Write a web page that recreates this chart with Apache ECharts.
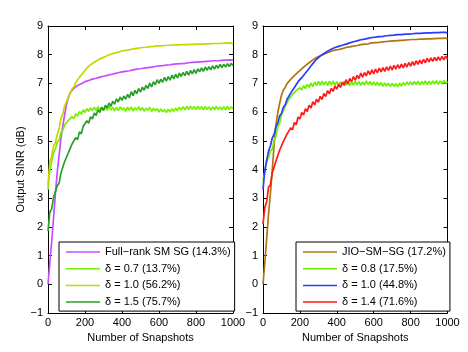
<!DOCTYPE html>
<html lang="en">
<head>
    <meta charset="UTF-8">
    <title>Output SINR vs Snapshots</title>
    <script src="https://cdn.jsdelivr.net/npm/echarts@6/dist/echarts.min.js"></script>
    <style>
        html, body { margin: 0; padding: 0; background: #fff; }
        #main { width: 468px; height: 352px; }
    </style>
</head>
<body>
<div id="main"></div>
<script>
    // one sample every 10 snapshots, 0..1000
    var snapStep = 10;
    var xTicks = [0, 200, 400, 600, 800, 1000];
    var yTicks = [-1, 0, 1, 2, 3, 4, 5, 6, 7, 8, 9];

    // left panel
    var leftNames = ['Full\u2212rank SM SG (14.3%)', '\u03b4 = 0.7 (13.7%)', '\u03b4 = 1.0 (56.2%)', '\u03b4 = 1.5 (75.7%)'];
    var leftColors = ['#c84cff', '#78f000', '#c4d800', '#28a028'];

    var fullRank = [
        0.00, 0.75, 1.50, 2.30, 3.15, 3.90, 4.50, 5.10, 5.50, 5.92,
        6.26, 6.50, 6.68, 6.70, 6.83, 6.82, 6.93, 6.88, 6.99, 6.95,
        7.06, 7.01, 7.10, 7.05, 7.15, 7.09, 7.18, 7.14, 7.22, 7.17,
        7.25, 7.21, 7.28, 7.24, 7.31, 7.27, 7.34, 7.29, 7.37, 7.33,
        7.40, 7.35, 7.42, 7.38, 7.44, 7.40, 7.47, 7.42, 7.50, 7.44,
        7.51, 7.47, 7.53, 7.49, 7.55, 7.51, 7.57, 7.52, 7.59, 7.54,
        7.61, 7.56, 7.62, 7.58, 7.64, 7.59, 7.65, 7.61, 7.67, 7.62,
        7.68, 7.63, 7.69, 7.65, 7.70, 7.66, 7.72, 7.67, 7.73, 7.68,
        7.74, 7.69, 7.75, 7.71, 7.76, 7.72, 7.77, 7.73, 7.78, 7.74,
        7.79, 7.75, 7.79, 7.76, 7.80, 7.76, 7.81, 7.77, 7.82, 7.78,
        7.81
    ];
    var d07 = [
        3.30, 3.98, 4.27, 4.58, 4.72, 4.95, 5.02, 5.29, 5.36, 5.55,
        5.54, 5.71, 5.69, 5.84, 5.77, 5.94, 5.86, 6.02, 5.93, 6.08,
        5.99, 6.12, 6.03, 6.15, 6.05, 6.17, 6.06, 6.19, 6.07, 6.16,
        6.05, 6.18, 6.06, 6.20, 6.07, 6.17, 6.04, 6.16, 6.05, 6.19,
        6.08, 6.15, 6.03, 6.17, 6.06, 6.18, 6.04, 6.15, 6.07, 6.19,
        6.05, 6.16, 6.03, 6.14, 6.06, 6.17, 6.02, 6.13, 6.05, 6.12,
        6.00, 6.11, 6.01, 6.09, 5.98, 6.10, 6.00, 6.12, 6.03, 6.14,
        6.05, 6.17, 6.07, 6.19, 6.08, 6.20, 6.09, 6.21, 6.10, 6.20,
        6.09, 6.21, 6.10, 6.19, 6.08, 6.20, 6.09, 6.18, 6.07, 6.19,
        6.08, 6.20, 6.09, 6.18, 6.07, 6.19, 6.08, 6.20, 6.09, 6.18,
        6.12
    ];
    var d10L = [
        3.45, 4.28, 4.47, 4.83, 4.93, 5.22, 5.43, 5.78, 5.93, 6.22,
        6.36, 6.53, 6.64, 6.81, 6.88, 7.03, 7.08, 7.21, 7.24, 7.37,
        7.40, 7.53, 7.55, 7.65, 7.64, 7.74, 7.73, 7.82, 7.81, 7.88,
        7.86, 7.94, 7.92, 7.99, 7.97, 8.04, 8.01, 8.07, 8.05, 8.11,
        8.08, 8.14, 8.10, 8.16, 8.13, 8.19, 8.15, 8.21, 8.17, 8.23,
        8.19, 8.25, 8.21, 8.26, 8.22, 8.28, 8.24, 8.29, 8.25, 8.31,
        8.26, 8.31, 8.27, 8.32, 8.28, 8.33, 8.28, 8.33, 8.29, 8.34,
        8.29, 8.34, 8.30, 8.35, 8.30, 8.35, 8.31, 8.36, 8.31, 8.36,
        8.32, 8.37, 8.32, 8.37, 8.33, 8.38, 8.33, 8.38, 8.34, 8.39,
        8.34, 8.39, 8.35, 8.39, 8.35, 8.40, 8.36, 8.40, 8.36, 8.41,
        8.37
    ];
    var d15 = [
        1.85, 2.52, 2.63, 3.02, 3.08, 3.43, 3.52, 3.88, 3.93, 4.28,
        4.27, 4.58, 4.57, 4.89, 4.84, 5.11, 5.04, 5.31, 5.24, 5.50,
        5.45, 5.70, 5.61, 5.84, 5.76, 5.97, 5.88, 6.08, 5.99, 6.17,
        6.06, 6.24, 6.14, 6.32, 6.20, 6.38, 6.27, 6.46, 6.35, 6.52,
        6.41, 6.56, 6.45, 6.62, 6.50, 6.71, 6.57, 6.76, 6.64, 6.82,
        6.70, 6.87, 6.76, 6.93, 6.82, 7.01, 6.88, 7.06, 6.95, 7.13,
        7.00, 7.15, 7.04, 7.21, 7.08, 7.24, 7.11, 7.29, 7.16, 7.32,
        7.19, 7.36, 7.24, 7.38, 7.27, 7.42, 7.29, 7.45, 7.33, 7.48,
        7.35, 7.51, 7.40, 7.54, 7.42, 7.57, 7.46, 7.58, 7.47, 7.61,
        7.50, 7.63, 7.53, 7.66, 7.55, 7.67, 7.57, 7.69, 7.59, 7.70,
        7.62
    ];

    // right panel
    var rightNames = ['JIO\u2212SM\u2212SG (17.2%)', '\u03b4 = 0.8 (17.5%)', '\u03b4 = 1.0 (44.8%)', '\u03b4 = 1.4 (71.6%)'];
    var rightColors = ['#b3730f', '#6cf000', '#2a3cff', '#ff1a1a'];

    var jio = [
        0.00, 0.75, 1.60, 2.45, 3.15, 3.95, 4.85, 5.55, 5.97, 6.30,
        6.58, 6.77, 6.85, 6.99, 7.03, 7.14, 7.17, 7.27, 7.30, 7.39,
        7.41, 7.51, 7.52, 7.62, 7.63, 7.72, 7.73, 7.82, 7.83, 7.90,
        7.89, 7.96, 7.95, 8.02, 8.01, 8.07, 8.06, 8.12, 8.10, 8.16,
        8.13, 8.18, 8.16, 8.21, 8.19, 8.25, 8.21, 8.27, 8.24, 8.30,
        8.26, 8.32, 8.29, 8.35, 8.31, 8.37, 8.33, 8.38, 8.35, 8.41,
        8.37, 8.42, 8.38, 8.43, 8.40, 8.45, 8.41, 8.46, 8.42, 8.47,
        8.43, 8.48, 8.44, 8.49, 8.46, 8.50, 8.46, 8.51, 8.47, 8.52,
        8.48, 8.53, 8.49, 8.53, 8.49, 8.54, 8.50, 8.54, 8.50, 8.55,
        8.51, 8.55, 8.52, 8.56, 8.52, 8.57, 8.53, 8.57, 8.53, 8.58,
        8.55
    ];
    var d08 = [
        3.60, 3.92, 4.28, 4.42, 4.64, 4.71, 4.99, 5.16, 5.49, 5.61,
        5.90, 5.96, 6.20, 6.22, 6.44, 6.43, 6.62, 6.58, 6.75, 6.69,
        6.85, 6.77, 6.92, 6.82, 6.97, 6.86, 7.01, 6.89, 7.05, 6.92,
        7.07, 6.94, 7.08, 6.95, 7.06, 6.93, 7.07, 6.95, 7.08, 6.94,
        7.06, 6.93, 7.05, 6.95, 7.07, 6.94, 7.06, 6.92, 7.05, 6.94,
        7.08, 6.95, 7.06, 6.93, 7.05, 6.94, 7.09, 6.96, 7.07, 6.94,
        7.05, 6.93, 7.04, 6.92, 7.03, 6.90, 7.02, 6.91, 7.01, 6.89,
        7.00, 6.90, 6.99, 6.88, 7.01, 6.91, 7.03, 6.93, 7.05, 6.95,
        7.06, 6.94, 7.07, 6.96, 7.08, 6.95, 7.07, 6.97, 7.09, 6.96,
        7.08, 6.97, 7.09, 6.98, 7.10, 6.97, 7.09, 6.98, 7.10, 6.99,
        7.06
    ];
    var d10R = [
        3.30, 3.98, 4.32, 4.64, 4.82, 5.09, 5.22, 5.49, 5.62, 5.86,
        5.95, 6.16, 6.25, 6.44, 6.49, 6.66, 6.69, 6.86, 6.89, 7.06,
        7.07, 7.20, 7.24, 7.36, 7.40, 7.52, 7.58, 7.69, 7.74, 7.84,
        7.86, 7.95, 7.96, 8.04, 8.04, 8.12, 8.11, 8.19, 8.17, 8.25,
        8.22, 8.29, 8.26, 8.33, 8.30, 8.37, 8.33, 8.41, 8.37, 8.45,
        8.40, 8.48, 8.44, 8.52, 8.47, 8.54, 8.49, 8.57, 8.52, 8.60,
        8.54, 8.61, 8.56, 8.63, 8.58, 8.64, 8.59, 8.66, 8.61, 8.67,
        8.62, 8.68, 8.64, 8.70, 8.65, 8.70, 8.66, 8.72, 8.66, 8.72,
        8.67, 8.73, 8.68, 8.74, 8.69, 8.74, 8.70, 8.75, 8.70, 8.76,
        8.71, 8.76, 8.71, 8.77, 8.72, 8.77, 8.72, 8.78, 8.73, 8.78,
        8.75
    ];
    var d14 = [
        2.10, 2.68, 2.88, 3.38, 3.47, 3.88, 3.92, 4.29, 4.32, 4.67,
        4.68, 4.97, 4.94, 5.23, 5.17, 5.45, 5.38, 5.64, 5.56, 5.83,
        5.76, 5.99, 5.90, 6.12, 6.02, 6.24, 6.14, 6.36, 6.25, 6.45,
        6.34, 6.55, 6.44, 6.65, 6.54, 6.75, 6.64, 6.83, 6.72, 6.91,
        6.80, 6.97, 6.86, 7.04, 6.93, 7.13, 6.98, 7.17, 7.06, 7.24,
        7.11, 7.28, 7.17, 7.36, 7.22, 7.38, 7.26, 7.44, 7.31, 7.47,
        7.33, 7.50, 7.37, 7.53, 7.40, 7.55, 7.42, 7.58, 7.45, 7.60,
        7.47, 7.63, 7.50, 7.65, 7.52, 7.67, 7.54, 7.70, 7.57, 7.73,
        7.60, 7.76, 7.63, 7.79, 7.66, 7.81, 7.69, 7.84, 7.72, 7.87,
        7.75, 7.89, 7.77, 7.91, 7.79, 7.92, 7.80, 7.94, 7.82, 7.95,
        7.85
    ];

    var FONT = 'Liberation Sans';

    function pairs(arr) {
        return arr.map(function (v, i) { return [i * snapStep, v]; });
    }

    // plain numbers, minus sign like the original
    function numFmt(v) {
        return String(v).replace('-', '\u2212');
    }

    function makeAxes(gridIndex, withName) {
        var tickStyle = { show: true, inside: true, length: 4, lineStyle: { color: '#000', width: 1 } };
        var xs = [{
            type: 'value', gridIndex: gridIndex, position: 'bottom',
            min: xTicks[0], max: xTicks[xTicks.length - 1], interval: xTicks[1] - xTicks[0],
            name: 'Number of Snapshots', nameLocation: 'middle', nameGap: 17,
            nameTextStyle: { fontFamily: FONT, fontSize: 11, color: '#000' },
            axisLine: { show: true, onZero: false, lineStyle: { color: '#000', width: 1 } },
            axisTick: tickStyle,
            axisLabel: { fontFamily: FONT, fontSize: 11, color: '#000', margin: 4, formatter: numFmt },
            splitLine: { show: false }
        }, {
            type: 'value', gridIndex: gridIndex, position: 'top',
            min: xTicks[0], max: xTicks[xTicks.length - 1], interval: xTicks[1] - xTicks[0],
            axisLine: { show: true, onZero: false, lineStyle: { color: '#000', width: 1 } },
            axisTick: tickStyle, axisLabel: { show: false }, splitLine: { show: false }
        }];
        var ys = [{
            type: 'value', gridIndex: gridIndex, position: 'left',
            min: yTicks[0], max: yTicks[yTicks.length - 1], interval: 1,
            name: withName ? 'Output SINR (dB)' : '', nameLocation: 'middle', nameGap: 22,
            nameTextStyle: { fontFamily: FONT, fontSize: 11, color: '#000' },
            axisLine: { show: true, onZero: false, lineStyle: { color: '#000', width: 1 } },
            axisTick: tickStyle,
            axisLabel: { fontFamily: FONT, fontSize: 11, color: '#000', margin: 5, formatter: numFmt },
            splitLine: { show: false }
        }, {
            type: 'value', gridIndex: gridIndex, position: 'right',
            min: yTicks[0], max: yTicks[yTicks.length - 1], interval: 1,
            axisLine: { show: true, onZero: false, lineStyle: { color: '#000', width: 1 } },
            axisTick: tickStyle, axisLabel: { show: false }, splitLine: { show: false }
        }];
        return { x: xs, y: ys };
    }

    function makeSeries(names, colors, datas, axisBase) {
        return names.map(function (n, i) {
            return {
                name: n, type: 'line', xAxisIndex: axisBase, yAxisIndex: axisBase,
                data: pairs(datas[i]), symbol: 'none', showSymbol: false,
                lineStyle: { color: colors[i], width: 1.7 }, itemStyle: { color: colors[i] },
                animation: false, z: 2 + i * 0.01
            };
        });
    }

    function makeLegend(names, left) {
        return {
            data: names, orient: 'vertical', left: left, top: 242,
            icon: 'rect', itemWidth: 34, itemHeight: 1.5, itemGap: 4.7,
            padding: [4, 4, 3, 7],
            borderColor: '#000', borderWidth: 1, borderRadius: 0, backgroundColor: '#fff',
            textStyle: { fontFamily: FONT, fontSize: 11, color: '#000', lineHeight: 12 },
            selectedMode: false
        };
    }

    var axL = makeAxes(0, true);
    var axR = makeAxes(1, false);

    var myChart = echarts.init(document.getElementById('main'), null, { renderer: 'canvas' });

    var option = {
        backgroundColor: '#fff',
        animation: false,
        grid: [
            { left: 48, top: 26, width: 185, height: 287 },
            { left: 263, top: 26, width: 184.5, height: 287 }
        ],
        xAxis: [axL.x[0], axL.x[1], axR.x[0], axR.x[1]],
        yAxis: [axL.y[0], axL.y[1], axR.y[0], axR.y[1]],
        legend: [makeLegend(leftNames, 59), makeLegend(rightNames, 296)],
        series: makeSeries(leftNames, leftColors, [fullRank, d07, d10L, d15], 0)
            .concat(makeSeries(rightNames, rightColors, [jio, d08, d10R, d14], 2))
    };

    myChart.setOption(option);
</script>
</body>
</html>
